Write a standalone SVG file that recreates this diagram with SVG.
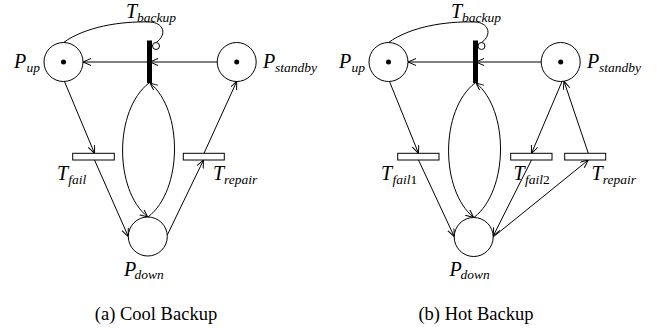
<svg xmlns="http://www.w3.org/2000/svg" width="657" height="328" viewBox="0 0 657 328">
<style>
.pl{fill:#fff;stroke:#000;stroke-width:1}
.tk{fill:#000}
.tr{fill:#fff;stroke:#000;stroke-width:1}
.bar{fill:#000}
.inh{fill:#fff;stroke:#000;stroke-width:1}
.arc{fill:none;stroke:#000;stroke-width:1}
.lab{font-family:"Liberation Serif","Times New Roman",serif;font-style:italic;font-size:20px;fill:#000}
.sub{font-size:13.5px}
.num{font-style:normal}
.cap{font-family:"Liberation Serif","Times New Roman",serif;font-size:18.5px;fill:#000;text-anchor:middle}
</style>
<defs>
<marker id="arr" markerWidth="10" markerHeight="10" refX="8" refY="3.5" orient="auto" markerUnits="userSpaceOnUse">
<path d="M0,0 L8,3.5 L0,7" fill="none" stroke="#000" stroke-width="1"/>
</marker>
</defs>
<rect width="657" height="328" fill="#fff"/>

<!-- Panel (a) connectors -->
<g id="connectors-a">
<path class="arc" d="M 63.5 42.5 C 85 27, 120 21, 150 22 C 163 22.5, 168 34, 156.2 42.5"/>
<line class="arc" x1="217.2" y1="62" x2="150" y2="62" marker-end="url(#arr)"/>
<line class="arc" x1="147" y1="62" x2="83" y2="62" marker-end="url(#arr)"/>
<path class="arc" d="M 149 83 C 114 110, 114 190, 147.8 217" marker-end="url(#arr)"/>
<path class="arc" d="M 148 217 C 183 190, 183 110, 150 83" marker-end="url(#arr)"/>
<line class="arc" x1="64.5" y1="81.5" x2="94.5" y2="153.3" marker-end="url(#arr)"/>
<line class="arc" x1="94.5" y1="160" x2="128.3" y2="236.5" marker-end="url(#arr)"/>
<line class="arc" x1="167.3" y1="235" x2="203.5" y2="160" marker-end="url(#arr)"/>
<line class="arc" x1="204" y1="153.3" x2="236.7" y2="81.5" marker-end="url(#arr)"/>
</g>

<!-- Panel (a) nodes -->
<g id="a-Pup">
<circle class="pl" cx="63.5" cy="62" r="19.5"/>
<circle class="tk" cx="63.5" cy="62" r="2.5"/>
<text class="lab" x="14" y="68.3">P<tspan class="sub" x="26.5" dy="3.5">up</tspan></text>
</g>
<g id="a-Pstandby">
<circle class="pl" cx="236.7" cy="62" r="19.5"/>
<circle class="tk" cx="236.7" cy="62" r="2.5"/>
<text class="lab" x="263" y="68.3">P<tspan class="sub" x="275" dy="3.5">standby</tspan></text>
</g>
<g id="a-Pdown">
<circle class="pl" cx="147.8" cy="236.5" r="19.5"/>
<text class="lab" x="124" y="276">P<tspan class="sub" x="134.5" dy="3">down</tspan></text>
</g>
<g id="a-Tbackup">
<rect class="bar" x="147" y="40.5" width="5" height="42.5"/>
<circle class="inh" cx="156" cy="46" r="3.5"/>
<text class="lab" x="126" y="18">T<tspan class="sub" x="137" dy="3.5">backup</tspan></text>
</g>
<g id="a-Tfail">
<rect class="tr" x="72.7" y="153.3" width="41.6" height="6.7"/>
<text class="lab" x="57" y="180">T<tspan class="sub" x="68.3" dy="3.5">fail</tspan></text>
</g>
<g id="a-Trepair">
<rect class="tr" x="183.3" y="153.3" width="41" height="6.7"/>
<text class="lab" x="213" y="180">T<tspan class="sub" x="224" dy="3.5">repair</tspan></text>
</g>
<text class="cap" x="156" y="320">(a) Cool Backup</text>

<!-- Panel (b) connectors -->
<g id="connectors-b">
<path class="arc" d="M 388.5 42.5 C 410 27, 445 21, 475 22 C 488 22.5, 493 34, 481.7 42.5"/>
<line class="arc" x1="541.2" y1="62" x2="476" y2="62" marker-end="url(#arr)"/>
<line class="arc" x1="473" y1="62" x2="408" y2="62" marker-end="url(#arr)"/>
<path class="arc" d="M 475 83 C 440 110, 440 190, 473.7 217.5" marker-end="url(#arr)"/>
<path class="arc" d="M 474 217.5 C 509 190, 509 110, 476 83" marker-end="url(#arr)"/>
<line class="arc" x1="389.5" y1="81.5" x2="418.5" y2="153.3" marker-end="url(#arr)"/>
<line class="arc" x1="418.5" y1="160" x2="454.2" y2="236.5" marker-end="url(#arr)"/>
<line class="arc" x1="562" y1="81.5" x2="531.5" y2="153.3" marker-end="url(#arr)"/>
<line class="arc" x1="531.5" y1="160" x2="493.2" y2="236" marker-end="url(#arr)"/>
<line class="arc" x1="493.2" y1="237" x2="588.3" y2="160" marker-end="url(#arr)"/>
<line class="arc" x1="588.3" y1="153.3" x2="564" y2="81.3" marker-end="url(#arr)"/>
</g>

<!-- Panel (b) nodes -->
<g id="b-Pup">
<circle class="pl" cx="388.5" cy="62" r="19.5"/>
<circle class="tk" cx="388.5" cy="62" r="2.5"/>
<text class="lab" x="339" y="68.3">P<tspan class="sub" x="351.5" dy="3.5">up</tspan></text>
</g>
<g id="b-Pstandby">
<circle class="pl" cx="560.7" cy="62" r="19.5"/>
<circle class="tk" cx="560.7" cy="62" r="2.5"/>
<text class="lab" x="587" y="68.3">P<tspan class="sub" x="599" dy="3.5">standby</tspan></text>
</g>
<g id="b-Pdown">
<circle class="pl" cx="473.7" cy="237" r="19.5"/>
<text class="lab" x="449.5" y="276">P<tspan class="sub" x="460.5" dy="3">down</tspan></text>
</g>
<g id="b-Tbackup">
<rect class="bar" x="473" y="40.5" width="5" height="42.5"/>
<circle class="inh" cx="481.5" cy="46" r="3.5"/>
<text class="lab" x="451" y="18">T<tspan class="sub" x="462" dy="3.5">backup</tspan></text>
</g>
<g id="b-Tfail1">
<rect class="tr" x="397.7" y="153.3" width="41.3" height="6.7"/>
<text class="lab" x="381" y="180">T<tspan class="sub" x="392.5" dy="3.5">fail<tspan class="num">1</tspan></tspan></text>
</g>
<g id="b-Tfail2">
<rect class="tr" x="510.7" y="153.3" width="41.3" height="6.7"/>
<text class="lab" x="513.5" y="180">T<tspan class="sub" x="525" dy="3.5">fail<tspan class="num">2</tspan></tspan></text>
</g>
<g id="b-Trepair">
<rect class="tr" x="564.7" y="153.3" width="41" height="6.7"/>
<text class="lab" x="591.5" y="180">T<tspan class="sub" x="602.7" dy="3.5">repair</tspan></text>
</g>
<text class="cap" x="476" y="320">(b) Hot Backup</text>
</svg>
